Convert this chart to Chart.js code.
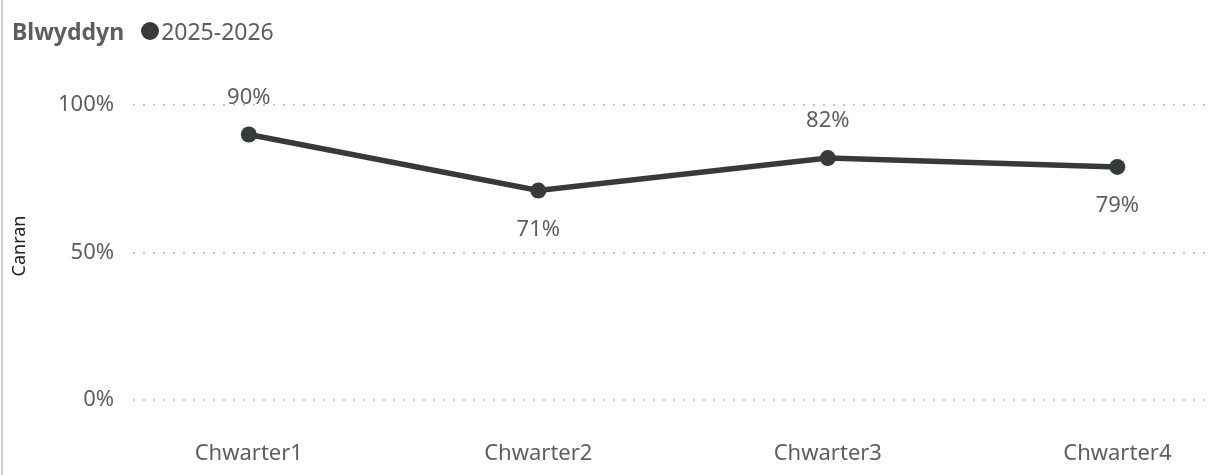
<!DOCTYPE html>
<html>
<head>
<meta charset="utf-8">
<script src="https://cdn.jsdelivr.net/npm/chart.js@4.4.1/dist/chart.umd.min.js"></script>
<style>
  html, body { margin: 0; padding: 0; background: #fff; }
  #wrap { position: relative; width: 1228px; height: 475px; overflow: hidden; }
  #wrap::before { content: ""; position: absolute; left: 1px; top: 0; bottom: 0; width: 2px; background: #cfcfcf; }
  #legend { position: absolute; left: 12px; top: 15px; font-family: "Noto Sans", sans-serif; font-size: 23px; color: #605e5c; display: flex; align-items: center; white-space: nowrap; }
  #legend b { color: #605e5c; margin-right: 17px; }
  #legend .dot { width: 18px; height: 18px; border-radius: 50%; background: #363a3a; margin-right: 2px; }
  canvas { position: absolute; left: 0; top: 0; }
</style>
</head>
<body>
<div id="wrap">
  <canvas id="lineChart" width="1228" height="475"></canvas>
  <div id="legend"><b>Blwyddyn</b><span class="dot"></span><span>2025-2026</span></div>
</div>
<script>
// quarters and percentage per quarter
const categories = ['Chwarter1', 'Chwarter2', 'Chwarter3', 'Chwarter4'];
const series = '2025-2026';
const values = [90, 71, 82, 79];
const yTicks = [0, 50, 100];
const yTitle = 'Canran';

const lineColor = '#363a3a';
const textColor = '#605e5c';
const fontFamily = '"Noto Sans", sans-serif';

// labels go above a point that sits higher than its neighbours, below otherwise
const valueLabels = {
    id: 'valueLabels',
    afterDatasetsDraw(chart) {
        const ctx = chart.ctx;
        const data = chart.data.datasets[0].data;
        const meta = chart.getDatasetMeta(0);
        ctx.save();
        ctx.font = '22px ' + fontFamily;
        ctx.fillStyle = textColor;
        ctx.textAlign = 'center';
        ctx.textBaseline = 'middle';
        meta.data.forEach((pt, i) => {
            const v = data[i].y;
            const nb = [];
            if (i > 0) nb.push(data[i - 1].y);
            if (i < data.length - 1) nb.push(data[i + 1].y);
            const avg = nb.reduce((a, b) => a + b, 0) / nb.length;
            const dy = v >= avg ? -37 : 39;
            ctx.fillText(v + '%', pt.x, pt.y + dy);
        });
        ctx.restore();
    }
};

// rotated y axis title, a bit above the plot's middle
const axisTitle = {
    id: 'axisTitle',
    afterDraw(chart) {
        const ctx = chart.ctx;
        ctx.save();
        ctx.translate(20, 246);
        ctx.rotate(-Math.PI / 2);
        ctx.font = '18px ' + fontFamily;
        ctx.fillStyle = '#252423';
        ctx.textAlign = 'center';
        ctx.textBaseline = 'middle';
        ctx.fillText(yTitle, 0, 0);
        ctx.restore();
    }
};

const ctx = document.getElementById('lineChart').getContext('2d');
new Chart(ctx, {
    type: 'line',
    data: {
        datasets: [{
            label: series,
            data: values.map((v, i) => ({ x: i + 1, y: v })),
            borderColor: lineColor,
            backgroundColor: lineColor,
            borderWidth: 5.5,
            pointRadius: 8,
            pointHoverRadius: 8,
            pointBackgroundColor: lineColor,
            pointBorderWidth: 0,
            tension: 0
        }]
    },
    options: {
        responsive: false,
        animation: false,
        events: [],
        layout: { padding: { top: 105, right: 18, left: 0, bottom: 0 } },
        plugins: {
            legend: { display: false },
            tooltip: { enabled: false }
        },
        scales: {
            x: {
                type: 'linear',
                min: 0.6,
                max: 4.32,
                afterBuildTicks: s => { s.ticks = categories.map((c, i) => ({ value: i + 1 })); },
                afterFit: s => { s.height = 75; },
                grid: { display: false },
                border: { display: false },
                ticks: {
                    padding: 33,
                    color: textColor,
                    font: { family: fontFamily, size: 22 },
                    callback: v => categories[v - 1]
                }
            },
            y: {
                min: 0,
                max: 100,
                afterBuildTicks: s => { s.ticks = yTicks.map(v => ({ value: v })); },
                afterFit: s => { s.width = 133; },
                border: { display: false, dash: [2, 8] },
                grid: {
                    color: '#c4c4c4',
                    lineWidth: 2,
                    drawTicks: false
                },
                ticks: {
                    padding: 19,
                    color: textColor,
                    font: { family: fontFamily, size: 22 },
                    callback: v => v + '%'
                }
            }
        }
    },
    plugins: [valueLabels, axisTitle]
});
</script>
</body>
</html>
